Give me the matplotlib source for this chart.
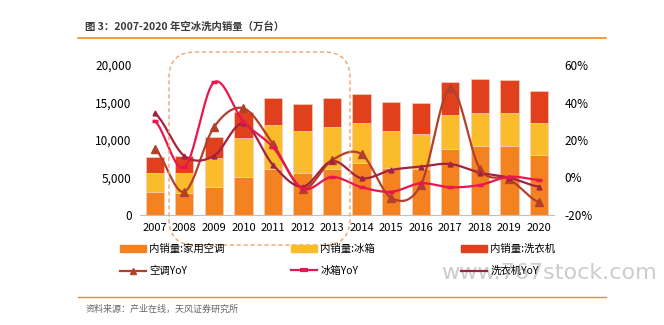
import numpy as np
import matplotlib
matplotlib.use("Agg")
import matplotlib.pyplot as plt
from matplotlib.patches import FancyBboxPatch, Patch
from matplotlib.lines import Line2D
from matplotlib.transforms import IdentityTransform

plt.rcParams['font.family'] = ['Noto Sans CJK SC', 'DejaVu Sans']

years = ['2007', '2008', '2009', '2010', '2011', '2012', '2013',
         '2014', '2015', '2016', '2017', '2018', '2019', '2020']

# domestic sales, 10k units
ac = [3100, 2900, 3780, 5110, 6090, 5640, 6180, 6980, 6220, 6090, 8850, 9250, 9200, 8000]
fridge = [2540, 2660, 3860, 5160, 5870, 5600, 5600, 5330, 4980, 4670, 4480, 4350, 4360, 4310]
washer = [2140, 2310, 2720, 3420, 3600, 3520, 3780, 3780, 3870, 4130, 4450, 4490, 4490, 4270]

# YoY, %
ac_yoy = [15.2, -7.6, 26.8, 36.9, 17.9, -5.9, 9.3, 12.4, -10.9, -4.0, 47.6, 4.7, -1.0, -13.2]
fridge_yoy = [30.1, 5.4, 50.7, 29.8, 16.1, -5.8, 0.3, -5.2, -7.6, -3.1, -5.2, -4.0, 0.4, -1.3]
washer_yoy = [34.2, 11.5, 11.5, 28.9, 6.7, -4.9, 8.8, -0.4, 4.0, 5.8, 7.2, 2.6, -0.1, -4.9]

c_ac, c_fr, c_wa = '#F58220', '#FBBC2C', '#E0401C'
c_ac_l, c_fr_l, c_wa_l = '#B3402A', '#E8174F', '#A2233F'


def smooth(x, y, n=24):
    """Catmull-Rom curve through the points, like Excel's smoothed line."""
    x = np.asarray(x, float)
    y = np.asarray(y, float)
    px = np.concatenate([[2 * x[0] - x[1]], x, [2 * x[-1] - x[-2]]])
    py = np.concatenate([[y[0]], y, [y[-1]]])
    t = np.linspace(0, 1, n)[:, None]
    xs, ys = [], []
    for i in range(1, len(px) - 2):
        for p, out in ((px, xs), (py, ys)):
            p0, p1, p2, p3 = p[i - 1], p[i], p[i + 1], p[i + 2]
            seg = 0.5 * (2 * p1 + (-p0 + p2) * t + (2 * p0 - 5 * p1 + 4 * p2 - p3) * t ** 2
                         + (-p0 + 3 * p1 - 3 * p2 + p3) * t ** 3)
            out.append(seg.ravel())
    return np.concatenate(xs), np.concatenate(ys)


fig = plt.figure(figsize=(6.64, 3.25), dpi=100)
ax = fig.add_axes([140 / 664, 1 - 215 / 325, 413.75 / 664, 150 / 325])

x = np.arange(len(years))
w = 0.62
ec = '#F6CDBE'
ax.bar(x, ac, w, color=c_ac, edgecolor=ec, linewidth=0.5, zorder=2)
ax.bar(x, fridge, w, bottom=ac, color=c_fr, edgecolor=ec, linewidth=0.5, zorder=2)
ax.bar(x, washer, w, bottom=np.add(ac, fridge), color=c_wa, edgecolor=ec, linewidth=0.5, zorder=2)

ax.set_xlim(-0.5, len(years) - 0.5)
ax.set_ylim(0, 20000)
ax.set_yticks([0, 5000, 10000, 15000, 20000])
ax.set_yticklabels(['0', '5,000', '10,000', '15,000', '20,000'])
ax.set_xticks(x)
ax.set_xticklabels(years)
for s in ['top', 'right', 'left']:
    ax.spines[s].set_visible(False)
ax.spines['bottom'].set_color('#BFBFBF')
ax.tick_params(axis='both', length=0, labelsize=8.5, colors='#000000')
ax.tick_params(axis='x', labelsize=8, pad=6)
ax.tick_params(axis='y', pad=6)

ax2 = ax.twinx()
ax2.set_ylim(-20, 60)
ax2.set_yticks([-20, 0, 20, 40, 60])
ax2.set_yticklabels(['-20%', '0%', '20%', '40%', '60%'])
for s in ['top', 'right', 'left', 'bottom']:
    ax2.spines[s].set_visible(False)
ax2.tick_params(axis='y', length=0, labelsize=8.5, pad=8)

for vals, col, mk, ms, mew in ((ac_yoy, c_ac_l, '^', 6, 1),
                               (washer_yoy, c_wa_l, '^', 3.5, 1),
                               (fridge_yoy, c_fr_l, '_', 5, 2.5)):
    sx, sy = smooth(x, vals)
    ax2.plot(sx, sy, color=col, lw=1.6, zorder=3)
    ax2.plot(x, vals, linestyle='none', marker=mk, markersize=ms, color=col,
             markeredgewidth=mew, zorder=4)

# dashed highlight box around 2008-2013
box = FancyBboxPatch((169, 325 - 245), 181, 193, boxstyle='round,pad=0,rounding_size=26',
                     transform=IdentityTransform(), fill=False, edgecolor='#F2A46E',
                     linestyle=(0, (3, 2)), linewidth=1.0, zorder=5)
fig.patches.append(box)

# title and rules
fig.text(85 / 664, 1 - 27 / 325, '图 3：2007-2020 年空冰洗内销量（万台）', fontsize=7.5,
         fontweight='bold', color='#3A3A3A', va='center', ha='left')
fig.add_artist(Line2D([78 / 664, 606 / 664], [1 - 38 / 325] * 2, color='#F28A1E', lw=1.2))
fig.add_artist(Line2D([78 / 664, 606 / 664], [1 - 297 / 325] * 2, color='#F28A1E', lw=1.0))
fig.text(86 / 664, 1 - 309 / 325, '资料来源：产业在线，天风证券研究所', fontsize=6.5,
         color='#666666', va='center', ha='left')

# watermark
fig.text(441 / 664, 1 - 273 / 325, 'www.767stock.com', fontsize=16, color='#CCCCCC',
         va='center', ha='left', family='DejaVu Sans', zorder=0)

# legend, three columns of two rows
cols = [
    (120, [Patch(color=c_ac), Line2D([], [], color=c_ac_l, lw=1.6, marker='^', markersize=5)],
     ['内销量:家用空调', '空调YoY']),
    (291, [Patch(color=c_fr), Line2D([], [], color=c_fr_l, lw=1.6, marker='_', markersize=6, markeredgewidth=3)],
     ['内销量:冰箱', '冰箱YoY']),
    (461, [Patch(color=c_wa), Line2D([], [], color=c_wa_l, lw=1.6)],
     ['内销量:洗衣机', '洗衣机YoY']),
]
for xp, hs, ls in cols:
    fig.legend(hs, ls, loc='upper left', bbox_to_anchor=(xp / 664, 1 - 244 / 325),
               frameon=False, fontsize=7.5, handlelength=2.5, handletextpad=0.3,
               labelspacing=1.15, borderpad=0, borderaxespad=0)

fig.savefig('out.png', dpi=100)
